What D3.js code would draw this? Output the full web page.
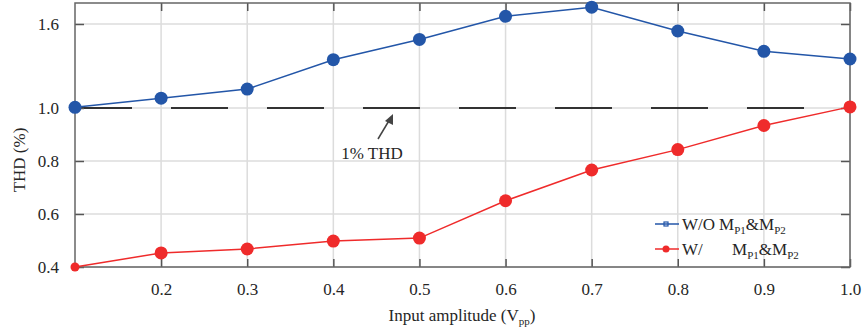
<!DOCTYPE html>
<html>
<head>
<meta charset="utf-8">
<script src="https://cdn.jsdelivr.net/npm/d3@7"></script>
<style>
  body { margin: 0; background: #fff; }
  svg text { font-family: "Liberation Serif", "Times New Roman", serif; fill: #262626; }
</style>
</head>
<body>
<svg id="chart" width="862" height="336"></svg>
<script>
// data
const amplitudes = [0.1, 0.2, 0.3, 0.4, 0.5, 0.6, 0.7, 0.8, 0.9, 1.0]
const thdWithout = [1.005, 1.07, 1.135, 1.345, 1.49, 1.655, 1.72, 1.55, 1.405, 1.35]
const thdWith = [0.40, 0.453, 0.468, 0.498, 0.509, 0.65, 0.766, 0.843, 0.934, 1.008]
const xTicks = [0.2, 0.3, 0.4, 0.5, 0.6, 0.7, 0.8, 0.9, 1.0]
const yTicks = [0.4, 0.6, 0.8, 1.0, 1.6]
const refLevel = 1.0

const svg = d3.select('#chart')
const plotLeft = 75
const plotRight = 850
const plotTop = 3
const plotBottom = 267

var x = d3.scaleLinear().domain([0.1, 1.0]).range([plotLeft, plotRight])
// broken y axis : the upper part is squeezed
var y = d3.scaleLinear().domain([0.4, 1.0, 1.75]).range([plotBottom, 108, plotTop])

const g = svg.append('g')

// grid
g.selectAll('.vgrid').data(xTicks).enter().append('line')
  .attr('x1', d => x(d)).attr('x2', d => x(d))
  .attr('y1', plotTop).attr('y2', plotBottom)
  .attr('stroke', '#dcdcdc').attr('stroke-width', 1.5)
g.selectAll('.hgrid').data(yTicks).enter().append('line')
  .attr('x1', plotLeft).attr('x2', plotRight)
  .attr('y1', d => y(d)).attr('y2', d => y(d))
  .attr('stroke', '#dcdcdc').attr('stroke-width', 1.5)

// 1% THD reference line
g.append('line')
  .attr('x1', x(0.1)).attr('x2', x(0.9) + 0.55 * (x(1.0) - x(0.9)))
  .attr('y1', y(refLevel)).attr('y2', y(refLevel))
  .attr('stroke', '#333').attr('stroke-width', 2)
  .attr('stroke-dasharray', '57,39')

// axes with inward ticks on all four sides
function styleAxis (sel) {
  sel.select('.domain').remove()
  sel.selectAll('.tick line').attr('stroke', '#555').attr('stroke-width', 1.5)
  sel.selectAll('.tick text').attr('font-size', 17).attr('fill', '#262626')
    .attr('font-family', '"Liberation Serif", serif')
}
g.append('g').attr('transform', 'translate(0,' + plotBottom + ')')
  .call(d3.axisBottom(x).tickValues(xTicks).tickFormat(d3.format('.1f')).tickSizeInner(-8).tickPadding(16))
  .call(styleAxis)
g.append('g').attr('transform', 'translate(0,' + plotTop + ')')
  .call(d3.axisTop(x).tickValues(xTicks).tickFormat('').tickSizeInner(-8))
  .call(styleAxis)
g.append('g').attr('transform', 'translate(' + plotLeft + ',0)')
  .call(d3.axisLeft(y).tickValues(yTicks).tickFormat(d3.format('.1f')).tickSizeInner(-9).tickPadding(16))
  .call(styleAxis)
g.append('g').attr('transform', 'translate(' + plotRight + ',0)')
  .call(d3.axisRight(y).tickValues(yTicks).tickFormat('').tickSizeInner(-9))
  .call(styleAxis)

g.append('rect')
  .attr('x', plotLeft).attr('y', plotTop)
  .attr('width', plotRight - plotLeft).attr('height', plotBottom - plotTop)
  .attr('fill', 'none').attr('stroke', '#666').attr('stroke-width', 1.5)

// series
const series = [
  { name: 'without', values: thdWithout, color: '#2356a8' },
  { name: 'with', values: thdWith, color: '#ef2b2b' }
]
const line = d3.line().x((d, i) => x(amplitudes[i])).y(d => y(d))

series.forEach(s => {
  g.append('path').datum(s.values)
    .attr('d', line).attr('fill', 'none')
    .attr('stroke', s.color).attr('stroke-width', 1.5)
  g.selectAll('.pt-' + s.name).data(s.values).enter().append('circle')
    .attr('cx', (d, i) => x(amplitudes[i])).attr('cy', d => y(d))
    .attr('r', (d, i) => (s.name === 'with' && i === 0) ? 4.5 : 6.5)
    .attr('fill', s.color)
})

// annotation
g.append('line')
  .attr('x1', 378).attr('y1', 139).attr('x2', 390).attr('y2', 119)
  .attr('stroke', '#444').attr('stroke-width', 1.5)
g.append('path')
  .attr('d', 'M393,114 L385,121 L393,125 Z')
  .attr('fill', '#444')
g.append('text').attr('x', 372).attr('y', 159)
  .attr('text-anchor', 'middle').attr('font-size', 17).text('1% THD')

// legend
const legend = g.append('g')
const rows = [
  { color: '#2356a8', label: 'W/O', y: 224, square: true },
  { color: '#ef2b2b', label: 'W/', y: 249, square: false }
]
var mStart = 0
rows.forEach((r, k) => {
  legend.append('line').attr('x1', 655).attr('x2', 679)
    .attr('y1', r.y).attr('y2', r.y).attr('stroke', r.color).attr('stroke-width', 1.5)
  if (r.square) {
    legend.append('rect').attr('x', 664).attr('y', r.y - 2).attr('width', 4).attr('height', 4)
      .attr('fill', 'none').attr('stroke', r.color).attr('stroke-width', 1.2)
  } else {
    legend.append('circle').attr('cx', 666).attr('cy', r.y).attr('r', 3.5).attr('fill', r.color)
  }
  const lab = legend.append('text').attr('x', 682).attr('y', r.y + 6).attr('font-size', 17).text(r.label)
  if (k === 0) mStart = 682 + lab.node().getComputedTextLength() + 4
  const t = legend.append('text').attr('x', k === 0 ? mStart : mStart + 13).attr('y', r.y + 6).attr('font-size', 17)
  t.append('tspan').text('M')
  t.append('tspan').attr('font-size', 11).attr('dy', 4).text('P1')
  t.append('tspan').attr('dy', -4).text('&M')
  t.append('tspan').attr('font-size', 11).attr('dy', 4).text('P2')
})

// axis titles
const xt = g.append('text').attr('x', 462).attr('y', 321)
  .attr('text-anchor', 'middle').attr('font-size', 17)
xt.append('tspan').text('Input amplitude (V')
xt.append('tspan').attr('font-size', 11).attr('dy', 4).text('pp')
xt.append('tspan').attr('dy', -4).text(')')

g.append('text')
  .attr('transform', 'translate(25,' + 160 + ') rotate(-90)')
  .attr('text-anchor', 'middle').attr('font-size', 17).text('THD (%)')
</script>
</body>
</html>
